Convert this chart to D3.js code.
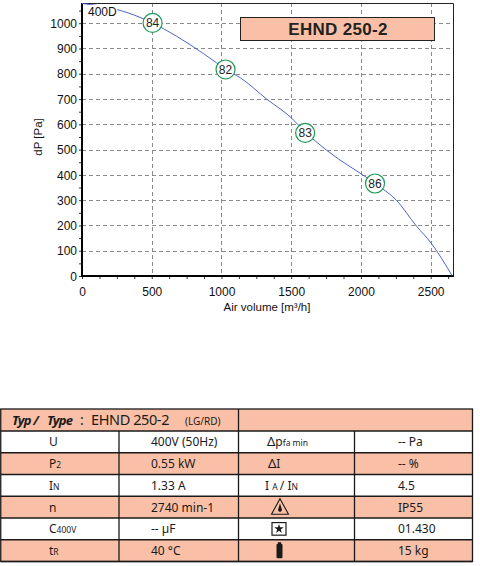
<!DOCTYPE html>
<html>
<head>
<meta charset="utf-8">
<script src="https://cdn.jsdelivr.net/npm/d3@7"></script>
<style>
  html, body { margin: 0; padding: 0; background: #fff; }
  svg { display: block; }
</style>
</head>
<body>
<script>
// fan curve
const airVolume = [0, 253, 506, 582, 965, 1029, 1133, 1324, 1502, 1600, 1753, 2101, 2254, 2397, 2505, 2655]
const pressure = [1078, 1054, 1001, 979, 843, 817, 785, 700, 625, 570, 498, 366, 300, 198, 129, 0]

// operating points (circles)
const opVolume = [506, 1029, 1600, 2101]
const opPressure = [1001, 817, 566, 366]
const opLabels = ['84', '82', '83', '86']

const xTicks = [0, 500, 1000, 1500, 2000, 2500]
const yTicks = [0, 100, 200, 300, 400, 500, 600, 700, 800, 900, 1000]

const typeName = 'EHND 250-2'
const curveName = '400D'

// table rows
const leftSymbols = [['U', ''], ['P', '2'], ['I', 'N'], ['n', ''], ['C', '400V'], ['t', 'R']]
const leftValues = ['400V (50Hz)', '0.55 kW', '1.33 A', '2740 min-1', '-- µF', '40 °C']
const rightValues = ['-- Pa', '-- %', '4.5', 'IP55', '01.430', '15 kg']

const salmon = '#fac0a7'
const W = 480, H = 566

const svg = d3.select('body')
  .append('svg')
  .attr('width', W)
  .attr('height', H)

const x = d3.scaleLinear().domain([0, 2660]).range([82, 453])
const y = d3.scaleLinear().domain([0, 1080]).range([276, 3])

const chartFont = '"Liberation Sans", Arial, sans-serif'
const tableFont = '"Noto Sans", "Open Sans", sans-serif'

// grid
const grid = svg.append('g')
  .attr('stroke', '#8a8a8a')
  .attr('stroke-width', 1)
  .attr('stroke-dasharray', '4,3')
grid.selectAll('.gx')
  .data(xTicks.filter(d => d > 0))
  .enter().append('line')
  .attr('x1', d => Math.round(x(d)) + 0.5)
  .attr('x2', d => Math.round(x(d)) + 0.5)
  .attr('y1', y.range()[1])
  .attr('y2', y.range()[0])
grid.selectAll('.gy')
  .data(yTicks.filter(d => d > 0))
  .enter().append('line')
  .attr('x1', x.range()[0])
  .attr('x2', x.range()[1])
  .attr('y1', d => Math.round(y(d)) + 0.5)
  .attr('y2', d => Math.round(y(d)) + 0.5)

// frame top/right
svg.append('path')
  .attr('d', `M${x.range()[0]},${y.range()[1] + 0.5}H${x.range()[1] + 0.5}V${y.range()[0]}`)
  .attr('fill', 'none')
  .attr('stroke', '#222')
  .attr('stroke-width', 1)

// axes
const xAxis = svg.append('g')
  .attr('transform', `translate(0,${y.range()[0]})`)
  .call(d3.axisBottom(x).tickValues(d3.range(0, 2660, 125)).tickSize(3).tickFormat(''))
xAxis.selectAll('.tick text').remove()
xAxis.selectAll('.tick')
  .filter(d => xTicks.includes(d))
  .append('text')
  .attr('y', 20)
  .attr('fill', '#111')
  .attr('text-anchor', 'middle')
  .style('font', `12px ${chartFont}`)
  .text(d => d)

const yAxis = svg.append('g')
  .attr('transform', `translate(${x.range()[0]},0)`)
  .call(d3.axisLeft(y).tickValues(d3.range(0, 1080, 50)).tickSize(3).tickFormat(''))
yAxis.selectAll('.tick')
  .filter(d => yTicks.includes(d))
  .append('text')
  .attr('x', -5)
  .attr('dy', '0.35em')
  .attr('fill', '#111')
  .attr('text-anchor', 'end')
  .style('font', `12px ${chartFont}`)
  .text(d => d)
svg.selectAll('.domain').remove()
svg.selectAll('.tick line').attr('stroke', '#333')

svg.append('line')
  .attr('x1', x.range()[0]).attr('x2', x.range()[1] + 1)
  .attr('y1', y.range()[0]).attr('y2', y.range()[0])
  .attr('stroke', '#000').attr('stroke-width', 2)
svg.append('line')
  .attr('x1', x.range()[0]).attr('x2', x.range()[0])
  .attr('y1', y.range()[1]).attr('y2', y.range()[0] + 1)
  .attr('stroke', '#000').attr('stroke-width', 2)

svg.append('text')
  .attr('x', 267)
  .attr('y', 311)
  .attr('text-anchor', 'middle')
  .attr('fill', '#111')
  .style('font', `11.5px ${chartFont}`)
  .text('Air volume [m³/h]')

svg.append('text')
  .attr('transform', 'translate(42,137) rotate(-90)')
  .attr('text-anchor', 'middle')
  .attr('fill', '#111')
  .style('font', `11.5px ${chartFont}`)
  .text('dP [Pa]')

// curve
const line = d3.line()
  .x(d => x(d[0]))
  .y(d => y(d[1]))
  .curve(d3.curveMonotoneX)
svg.append('path')
  .datum(airVolume.map((v, i) => [v, pressure[i]]))
  .attr('d', line)
  .attr('fill', 'none')
  .attr('stroke', '#4f63c9')
  .attr('stroke-width', 1)

// curve name with white back
svg.append('rect')
  .attr('x', 86).attr('y', 5)
  .attr('width', 31).attr('height', 13)
  .attr('fill', '#fff')
svg.append('text')
  .attr('x', 88)
  .attr('y', 16)
  .attr('fill', '#111')
  .style('font', `12px ${chartFont}`)
  .text(curveName)

// operating points
const ops = svg.append('g')
  .selectAll('g')
  .data(opVolume.map((v, i) => ({ v, p: opPressure[i], label: opLabels[i] })))
  .enter().append('g')
  .attr('transform', d => `translate(${x(d.v)},${y(d.p)})`)
ops.append('circle')
  .attr('r', 9.5)
  .attr('fill', '#fff')
  .attr('stroke', '#1f9a55')
  .attr('stroke-width', 1.2)
ops.append('text')
  .attr('text-anchor', 'middle')
  .attr('dy', '0.36em')
  .attr('fill', '#222')
  .style('font', `12px ${chartFont}`)
  .text(d => d.label)

// title box
svg.append('rect')
  .attr('x', 240.5).attr('y', 17.5)
  .attr('width', 194).attr('height', 23)
  .attr('fill', salmon)
  .attr('stroke', '#222')
  .attr('stroke-width', 1)
svg.append('text')
  .attr('x', 338)
  .attr('y', 35)
  .attr('text-anchor', 'middle')
  .attr('fill', '#222')
  .style('font', `bold 17px ${chartFont}`)
  .style('letter-spacing', '0.3px')
  .text(typeName)

// ---- table ----
const colX = [0.75, 119, 238.5, 354.5, 472.5]
const headTop = 409, headBottom = 431
const rowH = (561.5 - headBottom) / 6
const rowY = i => headBottom + i * rowH

const table = svg.append('g')

table.append('rect')
  .attr('x', colX[0]).attr('y', headTop)
  .attr('width', colX[4] - colX[0]).attr('height', headBottom - headTop)
  .attr('fill', salmon)
table.selectAll('.row')
  .data(leftValues)
  .enter().append('rect')
  .attr('x', colX[0]).attr('y', (d, i) => rowY(i))
  .attr('width', colX[4] - colX[0]).attr('height', rowH)
  .attr('fill', (d, i) => i % 2 === 1 ? salmon : '#fff')

// borders
const borders = table.append('g')
  .attr('stroke', '#1a1a1a')
  .attr('stroke-width', 1.3)
  .attr('fill', 'none')
borders.append('rect')
  .attr('x', colX[0]).attr('y', headTop)
  .attr('width', colX[4] - colX[0]).attr('height', rowY(6) - headTop)
d3.range(7).forEach(i => {
  borders.append('line')
    .attr('x1', colX[0]).attr('x2', colX[4])
    .attr('y1', rowY(i)).attr('y2', rowY(i))
})
borders.append('line')
  .attr('x1', colX[2]).attr('x2', colX[2])
  .attr('y1', headTop).attr('y2', rowY(6))
;[1, 3].forEach(c => {
  borders.append('line')
    .attr('x1', colX[c]).attr('x2', colX[c])
    .attr('y1', headBottom).attr('y2', rowY(6))
})

// header text
const head = table.append('text')
  .attr('y', headTop + 16)
  .attr('fill', '#1a1a1a')
  .style('font-family', tableFont)
head.append('tspan').attr('x', 12).style('font-size', '13px').style('font-weight', 'bold').style('font-style', 'italic').style('letter-spacing', '-0.8px').text('Typ /')
head.append('tspan').attr('x', 47).style('font-size', '13px').style('font-weight', 'bold').style('font-style', 'italic').style('letter-spacing', '-0.8px').text('Type')
head.append('tspan').attr('x', 80).style('font-size', '14px').text(':')
head.append('tspan').attr('x', 91).style('font-size', '14.5px').style('letter-spacing', '-0.4px').text(typeName)
head.append('tspan').attr('x', 185).style('font-size', '10px').text('(LG/RD)')

const rowText = (i, xx) => table.append('text')
  .attr('x', xx)
  .attr('y', rowY(i) + rowH / 2 + 4.5)
  .attr('fill', '#1a1a1a')
  .style('font-family', tableFont)
  .style('font-size', '12px')

leftSymbols.forEach((s, i) => {
  const t = rowText(i, 49)
  t.append('tspan').text(s[0])
  if (s[1]) t.append('tspan').style('font-size', '8.5px').text(s[1])
})
leftValues.forEach((v, i) => rowText(i, 151).text(v))
rightValues.forEach((v, i) => rowText(i, 398).text(v))

// right symbols
let t = rowText(0, 267)
t.append('tspan').style('font-size', '13px').text('Δ')
t.append('tspan').text('p')
t.append('tspan').style('font-size', '8.5px').text('fa min')
t = rowText(1, 268)
t.append('tspan').style('font-size', '13px').text('Δ')
t.append('tspan').text('I')
t = rowText(2, 265)
t.append('tspan').text('I ')
t.append('tspan').style('font-size', '8.5px').text('A ')
t.append('tspan').text('/ I')
t.append('tspan').style('font-size', '8.5px').text('N')

// protection triangle
const tri = table.append('g').attr('transform', `translate(280,${rowY(3)})`)
tri.append('path')
  .attr('d', 'M0,2.5L8.5,18L-8.5,18Z')
  .attr('fill', 'none')
  .attr('stroke', '#1a1a1a')
  .attr('stroke-width', 1.1)
tri.append('path')
  .attr('d', 'M0,7L1.6,12.5A1.9,1.9 0 1 1 -1.6,12.5Z')
  .attr('fill', '#1a1a1a')

// star box
const star = table.append('g').attr('transform', `translate(279,${rowY(4) + rowH / 2})`)
star.append('rect')
  .attr('x', -7).attr('y', -6.3)
  .attr('width', 14).attr('height', 12.6)
  .attr('fill', '#fff')
  .attr('stroke', '#1a1a1a')
  .attr('stroke-width', 1.2)
star.append('path')
  .attr('d', d3.symbol().type(d3.symbolStar).size(28)())
  .attr('fill', '#1a1a1a')

// weight
const wt = table.append('g').attr('transform', `translate(279.5,${rowY(5)})`)
wt.append('rect')
  .attr('x', -1.6).attr('y', 2.5)
  .attr('width', 3.2).attr('height', 3)
  .attr('fill', '#1a1a1a')
wt.append('rect')
  .attr('x', -3).attr('y', 4)
  .attr('width', 6).attr('height', 14.5)
  .attr('rx', 1.2)
  .attr('fill', '#1a1a1a')
</script>
</body>
</html>
